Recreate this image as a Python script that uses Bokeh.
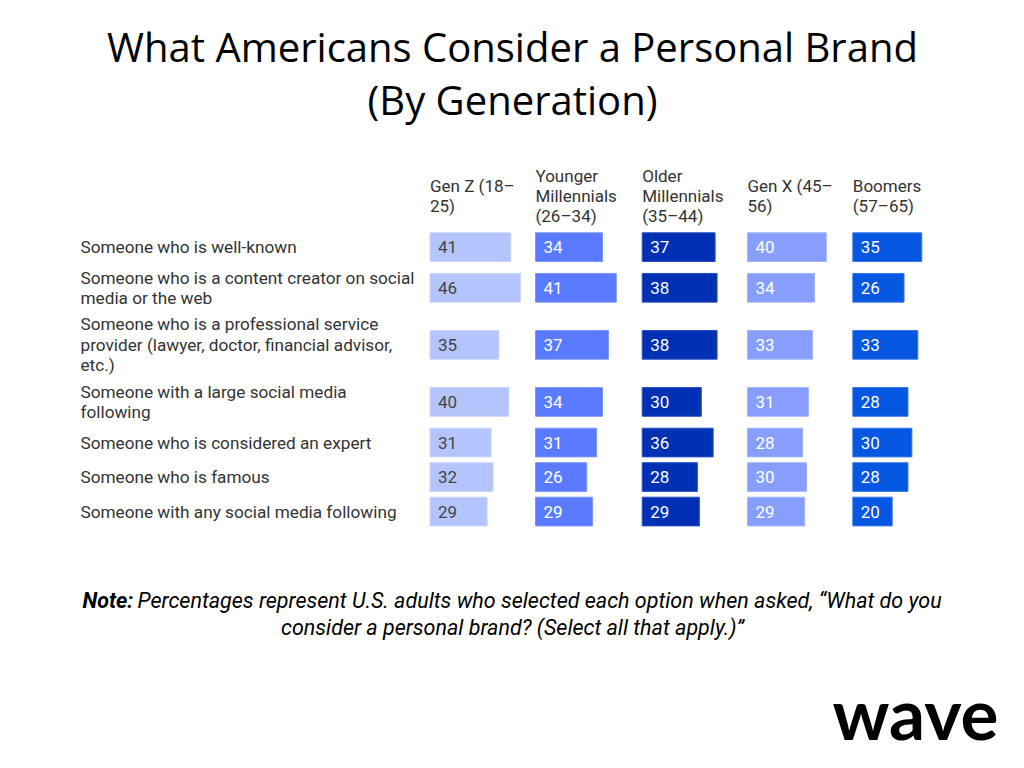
from bokeh.plotting import figure
from bokeh.models import Range1d, ColumnDataSource
from bokeh.core.properties import value
from bokeh.embed import file_html
from bokeh.resources import INLINE

# ---------------- data ----------------
title_lines = ["What Americans Consider a Personal Brand", "(By Generation)"]

generations = ["Gen Z (18–\n25)", "Younger\nMillennials\n(26–34)", "Older\nMillennials\n(35–44)",
               "Gen X (45–\n56)", "Boomers\n(57–65)"]

categories = [
    "Someone who is well-known",
    "Someone who is a content creator on social\nmedia or the web",
    "Someone who is a professional service\nprovider (lawyer, doctor, financial advisor,\netc.)",
    "Someone with a large social media\nfollowing",
    "Someone who is considered an expert",
    "Someone who is famous",
    "Someone with any social media following",
]

gen_z = [41, 46, 35, 40, 31, 32, 29]
younger_millennials = [34, 41, 37, 34, 31, 26, 29]
older_millennials = [37, 38, 38, 30, 36, 28, 29]
gen_x = [40, 34, 33, 31, 28, 30, 29]
boomers = [35, 26, 33, 28, 30, 28, 20]

series = [gen_z, younger_millennials, older_millennials, gen_x, boomers]

note_bold = "Note:"
note_line1 = "Percentages represent U.S. adults who selected each option when asked, \u201cWhat do you"
note_line2 = "consider a personal brand? (Select all that apply.)\u201d"
logo = "wave"

# ---------------- style / layout ----------------
W, H = 1024, 768
PX_PER_UNIT = 1.97              # pixels per percentage point
bar_colors = ["#b4c4fd", "#5a7bff", "#0031b4", "#879efe", "#0556e0"]
bar_edge = ["#c9d4fe", "#7b95ff", "#2a4fc4", "#a2b4fe", "#3a78e8"]
label_colors = ["#444444", "#ffffff", "#ffffff", "#ffffff", "#ffffff"]
col_left_px = [429.5, 535.0, 641.7, 747.0, 852.3]
FONT = "Roboto"

p = figure(width=W, height=H, output_backend="svg", toolbar_location=None,
           x_range=Range1d(0, W / PX_PER_UNIT), y_range=Range1d(H, 0),
           min_border=0, outline_line_color=None)
p.axis.visible = False
p.grid.visible = False
p.background_fill_color = "white"
p.border_fill_color = "white"

def u(px):
    return px / PX_PER_UNIT

# row geometry (depends on number of text lines per category)
BAR_H = 28.7
GAP = 5.8
LINE = 20.5
row_centers = []
y = 232.3
for c in categories:
    n = c.count("\n") + 1
    h = max(BAR_H, LINE * n)
    row_centers.append(y + h / 2)
    y += h + GAP

# bars + values
for gi, vals in enumerate(series):
    x0 = u(col_left_px[gi])
    src = ColumnDataSource(dict(
        left=[x0] * len(vals),
        right=[x0 + v for v in vals],
        top=[rc - BAR_H / 2 for rc in row_centers],
        bottom=[rc + BAR_H / 2 for rc in row_centers],
        tx=[x0 + u(8)] * len(vals),
        ty=row_centers,
        txt=[str(v) for v in vals],
    ))
    p.quad(left="left", right="right", top="top", bottom="bottom", source=src,
           fill_color=bar_colors[gi], line_color=bar_edge[gi], line_width=1)
    p.text(x="tx", y="ty", text="txt", source=src, text_font=value(FONT),
           text_font_size="17px", text_color=label_colors[gi],
           text_baseline="middle", text_align="left")

# row labels
lx, ly, lt = [], [], []
for c, rc in zip(categories, row_centers):
    lines = c.split("\n")
    n = len(lines)
    for k, ln in enumerate(lines):
        lx.append(u(80))
        ly.append(rc + (k - (n - 1) / 2) * LINE)
        lt.append(ln)
p.text(x=lx, y=ly, text=lt, text_font=value(FONT), text_font_size="17.2px",
       text_color="#333333", text_baseline="middle", text_align="left")

# column headers (centred block around y=195)
hx, hy, ht = [], [], []
for gi, g in enumerate(generations):
    lines = g.split("\n")
    n = len(lines)
    for k, ln in enumerate(lines):
        hx.append(u(col_left_px[gi]))
        hy.append(195 + (k - (n - 1) / 2) * 20)
        ht.append(ln)
p.text(x=hx, y=hy, text=ht, text_font=value(FONT), text_font_size="17px",
       text_color="#333333", text_baseline="middle", text_align="left")

# title
p.text(x=[u(W / 2)] * 2, y=[46, 99], text=title_lines, text_font=value("Open Sans"),
       text_font_size="40px", text_color="#000000", text_baseline="middle",
       text_align="center")

# note
p.text(x=[u(82)], y=[600], text=[note_bold], text_font=value(FONT),
       text_font_size="21.5px", text_font_style="bold italic", text_color="#000000",
       text_baseline="middle", text_align="left")
p.text(x=[u(137)], y=[600], text=[note_line1], text_font=value(FONT),
       text_font_size="21.5px", text_font_style="italic", text_color="#000000",
       text_baseline="middle", text_align="left")
p.text(x=[u(W / 2)], y=[627], text=[note_line2], text_font=value(FONT),
       text_font_size="21.5px", text_font_style="italic", text_color="#000000",
       text_baseline="middle", text_align="center")

# logo
p.text(x=[u(998)], y=[712], text=[logo], text_font=value("Lato"),
       text_font_size="71px", text_font_style="bold", text_color="#000000",
       text_baseline="middle", text_align="right")

open("out.html", "w").write(file_html(p, INLINE))
